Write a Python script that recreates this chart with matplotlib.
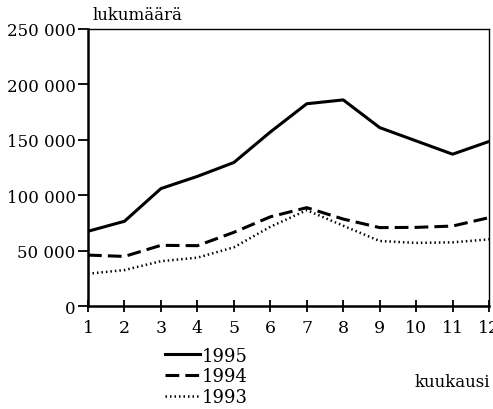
import numpy as np
import matplotlib
matplotlib.use("Agg")
import matplotlib.pyplot as plt
from matplotlib.ticker import FuncFormatter

# data
months = list(range(1, 13))
v1995 = [67500, 76500, 106000, 117000, 129500, 157000, 182500, 186000, 161000, 149000, 137000, 148500]
v1994 = [46000, 44800, 54800, 54500, 66500, 80500, 88800, 78500, 70800, 71000, 72200, 79800]
v1993 = [29200, 32500, 40500, 43700, 53000, 71500, 86500, 72500, 58700, 57000, 57500, 60200]
yticks = [0, 50000, 100000, 150000, 200000, 250000]

plt.rcParams['font.family'] = ['DejaVu Serif']

fig = plt.figure(figsize=(4.93, 4.10), dpi=100)
ax = fig.add_axes([0.1785, 0.251, 0.8135, 0.676])

ax.plot(months, v1995, color='black', lw=2.2, ls='-', label='1995')
ax.plot(months, v1994, color='black', lw=2.2, ls=(0, (4.5, 2)), label='1994')
ax.plot(months, v1993, color='black', lw=1.8, ls=(0, (0.6, 1.2)), label='1993')

ax.set_xlim(1, 12)
ax.set_ylim(0, 250000)
ax.set_xticks(months)
ax.set_yticks(yticks)
ax.yaxis.set_major_formatter(FuncFormatter(lambda v, p: f"{int(v):,}".replace(",", " ")))

ax.spines['left'].set_linewidth(1.8)
ax.spines['bottom'].set_linewidth(1.8)
ax.spines['top'].set_linewidth(1.0)
ax.spines['right'].set_linewidth(1.0)
ax.tick_params(axis='x', direction='inout', length=9, width=1.3, labelsize=12.5, pad=5)
ax.tick_params(axis='y', direction='out', length=7, width=1.3, labelsize=12, pad=2)

fig.text(0.188, 0.963, 'lukumäärä', fontsize=12, va='center', ha='left')
fig.text(0.995, 0.066, 'kuukausi', fontsize=12, va='center', ha='right')

fig.legend(loc='upper left', bbox_to_anchor=(0.334, 0.152), frameon=False,
           handlelength=1.95, handletextpad=0.1, labelspacing=0.15,
           fontsize=13, borderaxespad=0, borderpad=0)

fig.savefig('out.png', dpi=100)
